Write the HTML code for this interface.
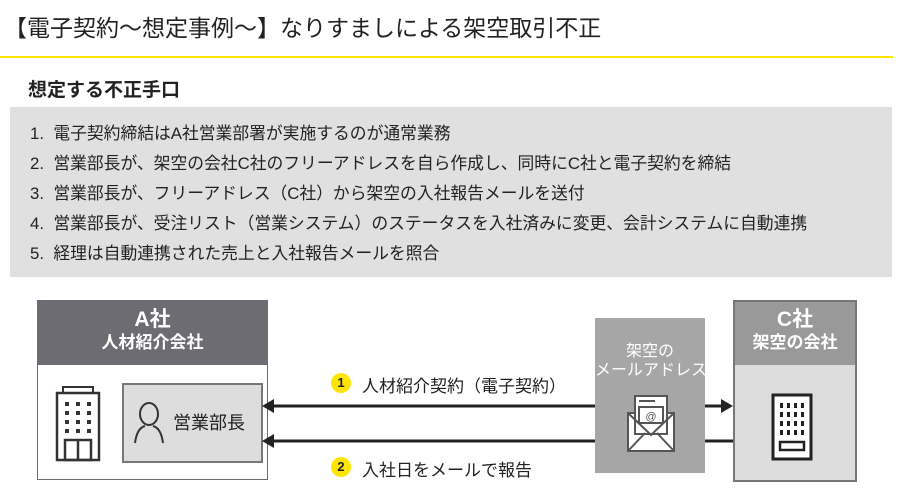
<!DOCTYPE html>
<html><head><meta charset="utf-8"><style>
body{margin:0;width:900px;height:493px;background:#fff;font-family:"Liberation Sans","Noto Sans CJK JP",sans-serif;color:#222;position:relative;overflow:hidden}
.a{position:absolute}
.li{position:absolute;left:30px;font-size:16.8px;color:#222;white-space:nowrap}
.c{position:absolute;width:20px;height:20px;border-radius:50%;background:#ffe600;font-size:13px;font-weight:bold;text-align:center;line-height:20px}
</style></head><body>
<div class="a" style="left:4px;top:9px;font-size:23px;white-space:nowrap">【電子契約～想定事例～】なりすましによる架空取引不正</div>
<div class="a" style="left:0;top:56px;width:893px;height:2px;background:#ffe600"></div>
<div class="a" style="left:28px;top:75px;font-size:19px;font-weight:bold">想定する不正手口</div>
<div class="a" style="left:10px;top:107px;width:882px;height:170px;background:#e0e0e0"></div>
<div class="li" style="top:120px">1.&nbsp; 電子契約締結はA社営業部署が実施するのが通常業務</div>
<div class="li" style="top:150px">2.&nbsp; 営業部長が、架空の会社C社のフリーアドレスを自ら作成し、同時にC社と電子契約を締結</div>
<div class="li" style="top:180px">3.&nbsp; 営業部長が、フリーアドレス（C社）から架空の入社報告メールを送付</div>
<div class="li" style="top:210px">4.&nbsp; 営業部長が、受注リスト（営業システム）のステータスを入社済みに変更、会計システムに自動連携</div>
<div class="li" style="top:240px">5.&nbsp; 経理は自動連携された売上と入社報告メールを照合</div>

<div class="a" style="left:37px;top:300px;width:229px;height:178px;border:1px solid #6d6c73;background:#fff"></div>
<div class="a" style="left:37px;top:300px;width:231px;height:65px;background:#6d6c73;color:#fff;text-align:center;font-weight:bold">
<div style="font-size:21px;margin-top:8px;line-height:24px">A社</div><div style="font-size:17px;line-height:22px">人材紹介会社</div></div>
<svg class="a" style="left:55px;top:386px" width="46" height="76" viewBox="0 0 46 76">
<rect x="8" y="1" width="30" height="6" fill="none" stroke="#333" stroke-width="2"/>
<rect x="2" y="7" width="42" height="67" fill="#fff" stroke="#333" stroke-width="2.5"/>
<g fill="#333"><rect x="10" y="16" width="4" height="4"/><rect x="21" y="16" width="4" height="4"/><rect x="32" y="16" width="4" height="4"/>
<rect x="10" y="25" width="4" height="4"/><rect x="21" y="25" width="4" height="4"/><rect x="32" y="25" width="4" height="4"/>
<rect x="10" y="34" width="4" height="4"/><rect x="21" y="34" width="4" height="4"/><rect x="32" y="34" width="4" height="4"/>
<rect x="10" y="43" width="4" height="4"/><rect x="21" y="43" width="4" height="4"/><rect x="32" y="43" width="4" height="4"/></g>
<rect x="10" y="54" width="26" height="20" fill="none" stroke="#333" stroke-width="2.5"/><line x1="23" y1="54" x2="23" y2="74" stroke="#333" stroke-width="2.5"/>
</svg>
<div class="a" style="left:122px;top:383px;width:137px;height:76px;background:#ddd;border:2px solid #777"></div>
<svg class="a" style="left:133px;top:402px" width="32" height="42" viewBox="0 0 32 42">
<ellipse cx="16" cy="12" rx="9" ry="11" fill="none" stroke="#333" stroke-width="2"/>
<path d="M2 41 Q4 26 12 24 M30 41 Q28 26 20 24" fill="none" stroke="#333" stroke-width="2"/></svg>
<div class="a" style="left:173px;top:409px;font-size:18px">営業部長</div>

<div class="a" style="left:595px;top:318px;width:110px;height:155px;background:#a6a6a6;color:#fff;text-align:center;font-size:16px;line-height:19px"><div style="margin-top:24px">架空の</div><div style="white-space:nowrap">メールアドレス</div></div>
<svg class="a" style="left:625px;top:393px" width="52" height="60" viewBox="0 0 52 60">
<path d="M3 20 L3 58 L49 58 L49 20 Z" fill="#fff" stroke="#555" stroke-width="2"/>
<rect x="10" y="3" width="32" height="38" fill="#fff" stroke="#555" stroke-width="2"/>
<line x1="14" y1="8" x2="30" y2="8" stroke="#555" stroke-width="2"/>
<rect x="14" y="14" width="24" height="16" fill="#fff" stroke="#555" stroke-width="2"/>
<text x="26" y="27" font-size="11" text-anchor="middle" fill="#555">@</text>
<path d="M3 20 L26 42 L49 20 M3 58 L20 40 M49 58 L32 40" fill="none" stroke="#555" stroke-width="2"/>
</svg>

<div class="a" style="left:733px;top:300px;width:120px;height:178px;border:2px solid #777;background:#ddd"></div>
<div class="a" style="left:735px;top:302px;width:120px;height:63px;background:#999;color:#fff;text-align:center;font-weight:bold">
<div style="font-size:21px;margin-top:6px;line-height:24px">C社</div><div style="font-size:17px;line-height:22px">架空の会社</div></div>
<svg class="a" style="left:771px;top:393px" width="42" height="68" viewBox="0 0 42 68">
<rect x="2" y="2" width="38" height="64" fill="#fff" stroke="#222" stroke-width="3"/>
<g fill="#222"><rect x="9" y="10" width="3" height="5"/><rect x="16" y="10" width="3" height="5"/><rect x="23" y="10" width="3" height="5"/><rect x="30" y="10" width="3" height="5"/>
<rect x="9" y="19" width="3" height="5"/><rect x="16" y="19" width="3" height="5"/><rect x="23" y="19" width="3" height="5"/><rect x="30" y="19" width="3" height="5"/>
<rect x="9" y="28" width="3" height="5"/><rect x="16" y="28" width="3" height="5"/><rect x="23" y="28" width="3" height="5"/><rect x="30" y="28" width="3" height="5"/>
<rect x="9" y="37" width="3" height="5"/><rect x="16" y="37" width="3" height="5"/><rect x="23" y="37" width="3" height="5"/><rect x="30" y="37" width="3" height="5"/></g>
<rect x="9" y="49" width="24" height="8" fill="none" stroke="#222" stroke-width="2.5"/></svg>

<svg class="a" style="left:0;top:0" width="900" height="493">
<line x1="272" y1="406" x2="595" y2="406" stroke="#222" stroke-width="3"/>
<polygon points="262,406 274,399 274,413" fill="#222"/>
<line x1="705" y1="406" x2="723" y2="406" stroke="#222" stroke-width="3"/>
<polygon points="733,406 721,399 721,413" fill="#222"/>
<line x1="272" y1="441" x2="595" y2="441" stroke="#222" stroke-width="3"/>
<polygon points="262,441 274,434 274,448" fill="#222"/>
<line x1="705" y1="441" x2="733" y2="441" stroke="#222" stroke-width="3"/>
</svg>
<div class="c" style="left:331px;top:373px">1</div>
<div class="a" style="left:362px;top:372px;font-size:17px;white-space:nowrap">人材紹介契約（電子契約）</div>
<div class="c" style="left:331px;top:457px">2</div>
<div class="a" style="left:362px;top:456px;font-size:17px;white-space:nowrap">入社日をメールで報告</div>
</body></html>
